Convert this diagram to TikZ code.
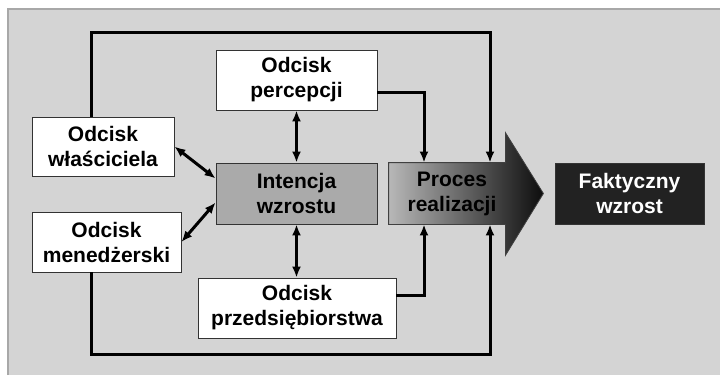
\documentclass[tikz,border=0pt]{standalone}
\usepackage{fontspec}
\setmainfont{Liberation Sans}
\usetikzlibrary{arrows.meta,positioning,calc,backgrounds}
\definecolor{bggray}{HTML}{D4D4D4}
\definecolor{edgegray}{HTML}{A8A8A8}
\definecolor{intgray}{HTML}{AAAAAA}
\definecolor{faktgray}{HTML}{222222}
\tikzset{
  box/.style={draw=black!80, line width=0.8pt, fill=white, align=center, inner sep=0pt,
    font=\bfseries\fontsize{21}{25}\selectfont},
  flow/.style={line width=3pt, -{Latex[length=11pt,width=9pt]}},
  both/.style={line width=3pt, {Latex[length=11pt,width=9pt]}-{Latex[length=11pt,width=9pt]}},
}
\begin{document}
\begin{tikzpicture}[x=1pt,y=-1pt]
\useasboundingbox (0,0) rectangle (720,375);

\node[box, minimum width=161, minimum height=60] (perc) at (296.5,80) {Odcisk\\percepcji};
\node[box, minimum width=142, minimum height=59] (wlasc) at (103,146.5) {Odcisk\\właściciela};
\node[box, fill=intgray, minimum width=161, minimum height=61] (intenc) at (296.5,193.5) {Intencja\\wzrostu};
\node[box, minimum width=149, minimum height=60] (mened) at (106.5,242) {Odcisk\\menedżerski};
\node[box, minimum width=198, minimum height=60] (przeds) at (297,308) {Odcisk\\przedsiębiorstwa};
\node[box, draw=none, fill=none, minimum width=116, minimum height=61] (proces) at (447,193.5) {\hspace{10pt}Proces\\\hspace{10pt}realizacji};
\node[box, fill=faktgray, text=white, minimum width=149, minimum height=61] (fakt) at (629.5,193.5) {Faktyczny\\wzrost};

\begin{scope}[on background layer]
\fill[bggray] (8,9) rectangle (720,375);
\draw[edgegray, line width=2pt] (8,375) -- (8,9) -- (720,9);
\shade[left color=black!28, middle color=black!52, right color=black!95, draw=black!75, line width=0.8pt]
  (proces.north west) -- (proces.north east) -- ([yshift=30pt]proces.north east)
  -- ($(proces.east)+(38,0)$) -- ([yshift=-31pt]proces.south east)
  -- (proces.south east) -- (proces.south west) -- cycle;
\end{scope}

\coordinate (loopTL) at (91,32);
\coordinate (loopBL) at (91,354);
\coordinate (outerX) at (490,0);
\coordinate (innerX) at (424,0);

\draw[flow] (wlasc.north -| loopTL) -- (loopTL) -| (outerX |- proces.north);
\draw[flow] (mened.south -| loopBL) -- (loopBL) -| (outerX |- proces.south);
\draw[flow] ([yshift=-12pt]perc.east) -| (innerX |- proces.north);
\draw[flow] ([yshift=13pt]przeds.east) -| (innerX |- proces.south);
\draw[both] (perc.south) -- (intenc.north);
\draw[both] (intenc.south) -- (intenc.south |- przeds.north);
\draw[both] (wlasc.east) -- ([yshift=15pt]intenc.west);
\draw[both] (mened.east) -- ([yshift=-9pt]intenc.west);
\end{tikzpicture}
\end{document}
